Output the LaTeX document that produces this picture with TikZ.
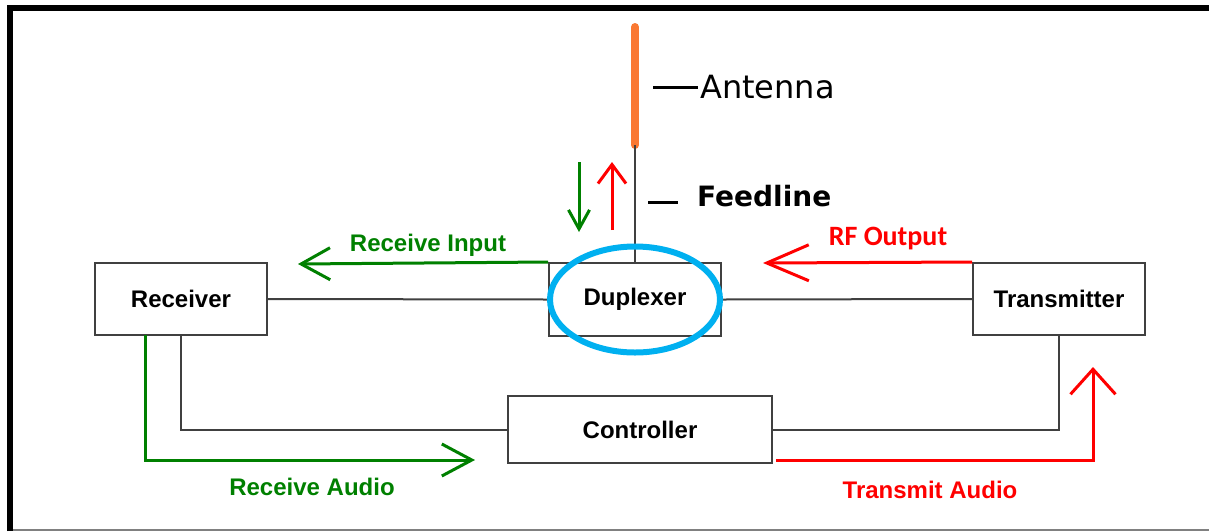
\documentclass[tikz,border=0pt]{standalone}
\usepackage{fontspec}
\setmainfont{Liberation Sans}
\newfontfamily\dejavu{DejaVu Sans}
\newfontfamily\carlito{Carlito}
\usepackage{tikz}
\usetikzlibrary{positioning}
\usetikzlibrary{arrows.meta}

\definecolor{wiregray}{RGB}{64,64,64}
\definecolor{rxgreen}{RGB}{0,128,0}
\definecolor{txred}{RGB}{255,0,0}
\definecolor{ringblue}{RGB}{0,176,240}
\definecolor{antorange}{RGB}{250,120,50}

\tikzset{
  unit/.style={draw=wiregray,line width=2pt,fill=white,inner sep=0pt,
    font=\fontsize{24}{28}\selectfont\bfseries},
  wire/.style={draw=wiregray,line width=2pt},
  rxsig/.style={draw=rxgreen,line width=3pt},
  txsig/.style={draw=txred,line width=3pt},
  lbl/.style={inner sep=0pt,anchor=base,font=\fontsize{24}{28}\selectfont\bfseries},
  barb/.style={-{Straight Barb[length=#1,width=32pt,line width=3pt]}},
}

\begin{document}
\begin{tikzpicture}[x=1pt,y=-1pt]
\useasboundingbox (0,0) rectangle (1209,531);

% frame
\draw[line width=6pt] (10,531) -- (10,7.5) -- (1209,7.5);
\draw[gray,line width=2pt] (13,530) -- (1209,530);

% blocks
\node[unit,minimum width=172pt,minimum height=72pt] (rx) at (181,299) {Receiver};
\node[unit,minimum width=172pt,minimum height=73pt] (dup) at (635,299.5) {Duplexer};
\node[unit,minimum width=172pt,minimum height=72pt] (tx) at (1059,299) {Transmitter};
\node[unit,minimum width=264pt,minimum height=67pt] (ctl) at (640,429.5) {Controller};

\coordinate (anttop) at (635,27);
\coordinate (ant) at (635,145);
\coordinate (riend) at (298,264);
\coordinate (rfend) at (763,263);
\coordinate (rastart) at (145,335);
\coordinate (raend) at (475,460);
\coordinate (tastart) at (776,460);
\coordinate (taend) at (1093,367);
\coordinate (dntop) at (579,162);
\coordinate (dnbot) at (579,232);
\coordinate (upbot) at (612,230);
\coordinate (uptop) at (612,162);

% antenna and feedline
\draw[antorange,line width=8pt,line cap=round] (anttop) -- (ant);
\draw[wire] (ant) -- (dup.north);

\node[inner sep=0pt,anchor=base west,font=\dejavu\fontsize{32}{36}\selectfont] (antlbl) at (700,98) {Antenna};
\draw[black,line width=3pt] ([xshift=-47pt,yshift=11pt]antlbl.base west) -- ([xshift=-2pt,yshift=11pt]antlbl.base west);
\node[inner sep=0pt,anchor=base west,font=\dejavu\bfseries\fontsize{28}{32}\selectfont] (fdlbl) at (697,206) {Feedline};
\draw[black,line width=3pt] ([xshift=-49pt,yshift=4pt]fdlbl.base west) -- ([xshift=-19pt,yshift=4pt]fdlbl.base west);

\draw[rxsig,-{Straight Barb[length=19pt,width=21pt,line width=3pt]}] (dntop) -- (dnbot);
\draw[txsig,-{Straight Barb[length=19pt,width=28pt,line width=3pt]}] (upbot) -- (uptop);

% wiring
\draw[wire] (rx.east) -- (dup.west);
\draw[wire] (dup.east) -- (tx.west);
\draw[wire] (rx.south) |- (ctl.west);
\draw[wire] (tx.south) |- (ctl.east);

% signal paths
\draw[rxsig,barb=29pt] (dup.north west) -- (riend);
\node[lbl,text=rxgreen] (rilbl) at (428,251) {Receive Input};
\draw[txsig,-{Straight Barb[length=42pt,width=36pt,line width=3pt]}] (tx.north west) -- (rfend);
\node[inner sep=0pt,anchor=base,text=txred,font=\carlito\bfseries\fontsize{28}{32}\selectfont] (rflbl) at (888,245) {RF Output};
\draw[rxsig,barb=30pt] (rastart) |- (raend);
\node[lbl,text=rxgreen] (ralbl) at (312,495) {Receive Audio};
\draw[txsig,-{Straight Barb[length=25pt,width=45pt,line width=3pt]}] (tastart) -| (taend);
\node[lbl,text=txred] (talbl) at (930,498) {Transmit Audio};

% duplexer highlight
\draw[ringblue,line width=6pt] (dup.center) ellipse [x radius=85, y radius=53];
\end{tikzpicture}
\end{document}
